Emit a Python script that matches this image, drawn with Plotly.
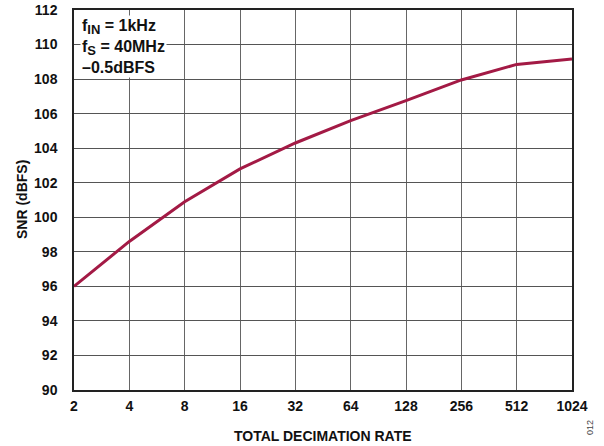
import plotly.graph_objects as go
import math

decimation = [2, 4, 8, 16, 32, 64, 128, 256, 512, 1024]
snr_dbfs = [96.0, 98.6, 100.9, 102.8, 104.3, 105.6, 106.75, 107.95, 108.85, 109.17]
x_tick_labels = ["2", "4", "8", "16", "32", "64", "128", "256", "512", "1024"]
y_ticks = list(range(90, 113, 2))

FONT = "Liberation Sans, Arial, sans-serif"

fig = go.Figure()
fig.add_trace(go.Scatter(
    x=decimation, y=snr_dbfs, mode="lines",
    line=dict(color="#A31A45", width=3),
    showlegend=False, hoverinfo="skip",
))

sub = lambda s: '<sub><span style="font-size:13px">' + s + '</span></sub>'

fig.update_layout(
    width=604, height=446,
    margin=dict(l=74, r=32, t=10, b=56, autoexpand=False),
    paper_bgcolor="white", plot_bgcolor="white",
    font=dict(family=FONT, size=13, color="#111"),
    xaxis=dict(
        type="log", automargin=False,
        range=[math.log10(2), math.log10(1024)],
        tickvals=decimation, ticktext=x_tick_labels,
        showgrid=True, gridcolor="#666", gridwidth=1.2,
        showline=True, linecolor="#222", linewidth=1.5, mirror=True,
        ticks="", ticklabelstandoff=2,
        tickfont=dict(family=FONT, size=14, color="#111", weight="bold"),
        zeroline=False,
    ),
    yaxis=dict(
        range=[90, 112], automargin=False,
        tickvals=y_ticks,
        showgrid=True, gridcolor="#555", gridwidth=1.2,
        showline=True, linecolor="#222", linewidth=1.5, mirror=True,
        ticks="", ticklabelstandoff=12,
        tickfont=dict(family=FONT, size=14, color="#111", weight="bold"),
        zeroline=False,
    ),
    annotations=[
        dict(
            xref="paper", yref="paper", x=0, xshift=6, y=1.0, yshift=-5, xanchor="left", yanchor="top",
            text="<b>f" + sub("IN") + " = 1kHz<br>f" + sub("S") + " = 40MHz<br>–0.5dBFS</b>",
            align="left", showarrow=False, bgcolor="white", borderpad=1,
            font=dict(family=FONT, size=16, color="#111"),
        ),
        dict(
            xref="paper", yref="paper", x=0.5, y=0, yshift=-46, xanchor="center", yanchor="middle",
            text="<b>TOTAL DECIMATION RATE</b>", showarrow=False,
            font=dict(family=FONT, size=14, color="#111"),
        ),
        dict(
            xref="paper", yref="paper", x=0, y=0.5, xshift=-52, xanchor="center", yanchor="middle",
            text="<b>SNR (dBFS)</b>", textangle=-90, showarrow=False,
            font=dict(family=FONT, size=14, color="#111"),
        ),
        dict(
            xref="paper", yref="paper", x=1.0, y=0, yshift=-38, xshift=18, xanchor="center", yanchor="middle",
            text="012", textangle=-90, showarrow=False,
            font=dict(family=FONT, size=9, color="#444"),
        ),
    ],
)

fig.write_html("out.html")
